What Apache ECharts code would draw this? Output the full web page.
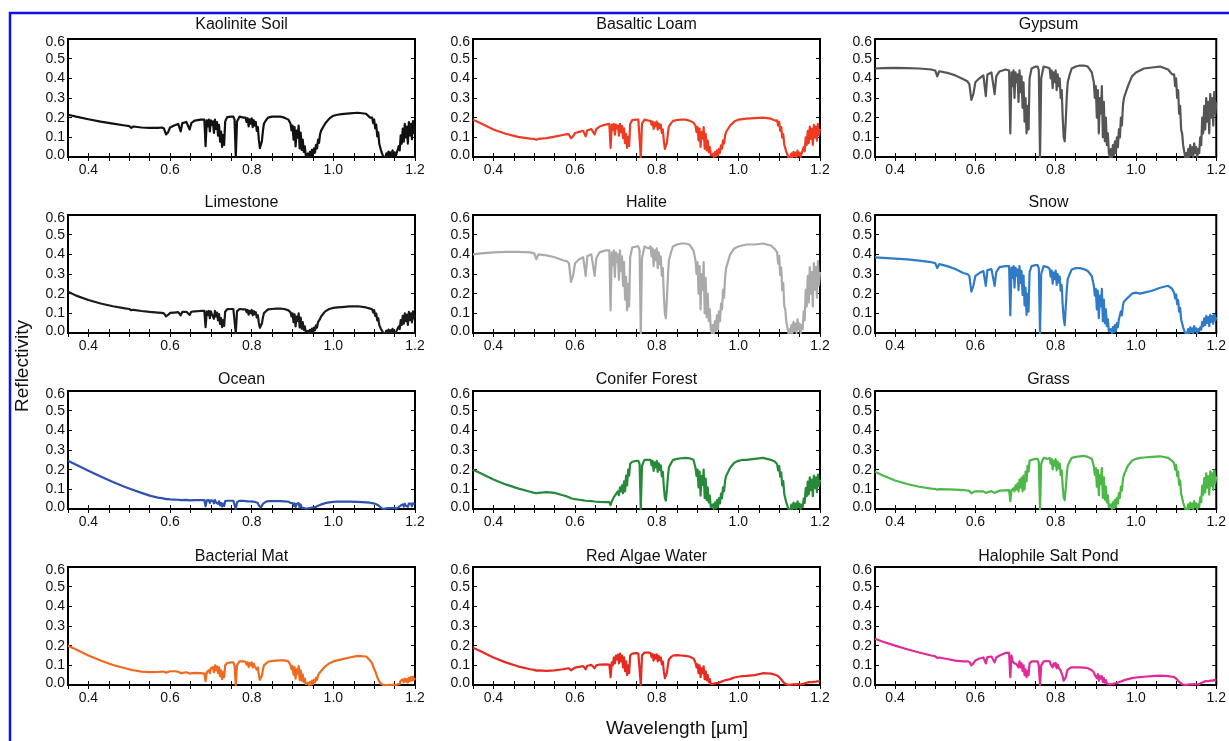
<!DOCTYPE html>
<html>
<head>
<meta charset="utf-8">
<title>Reflectivity spectra</title>
<script src="https://cdn.jsdelivr.net/npm/echarts@6/dist/echarts.min.js"></script>
<style>
  html, body { margin: 0; padding: 0; background: #fff; }
  #chart { width: 1229px; height: 741px; }
</style>
</head>
<body>
<div id="chart"></div>
<script>
// wavelength grid (um), shared by every panel; finer inside the absorption bands
var wavelength = [
  0.35, 0.37, 0.40, 0.43, 0.46, 0.49, 0.50, 0.505, 0.51, 0.53, 0.55, 0.57,
  0.58, 0.585, 0.59, 0.595, 0.60, 0.61, 0.62, 0.626, 0.63, 0.64, 0.648, 0.652, 0.66, 0.675,
  0.684, 0.687, 0.690, 0.6925, 0.695, 0.6975, 0.700, 0.7025, 0.705, 0.7075, 0.710, 0.7125, 0.715, 0.7175, 0.720, 0.7225, 0.725, 0.7275, 0.730, 0.7325, 0.735, 0.740, 0.750,
  0.755, 0.758, 0.761, 0.764, 0.770, 0.780,
  0.785, 0.7875, 0.790, 0.7925, 0.795, 0.7975, 0.800, 0.8025, 0.805, 0.8075, 0.810, 0.8125, 0.815, 0.8175, 0.820, 0.8225, 0.825, 0.8275, 0.830, 0.835, 0.840, 0.850,
  0.860, 0.870, 0.880, 0.890,
  0.895, 0.8975, 0.900, 0.9025, 0.905, 0.9075, 0.910, 0.9125, 0.915, 0.9175, 0.920, 0.9225, 0.925, 0.9275, 0.930, 0.9325, 0.935, 0.9375, 0.940, 0.9425, 0.945, 0.9475, 0.950, 0.9525, 0.955, 0.9575, 0.960, 0.9625, 0.965, 0.9675, 0.970,
  0.980, 0.990, 1.000, 1.010, 1.020, 1.040, 1.060, 1.080, 1.090,
  1.095, 1.0975, 1.100, 1.1025, 1.105, 1.1075, 1.110, 1.1125, 1.115, 1.1175, 1.120, 1.1225, 1.125, 1.1275, 1.130, 1.1325, 1.135, 1.1375, 1.140, 1.1425, 1.145, 1.1475, 1.150, 1.1525, 1.155, 1.1575,
  1.160, 1.1625, 1.165, 1.1675, 1.170, 1.1725, 1.175, 1.1775, 1.180, 1.1825, 1.185, 1.1875, 1.190, 1.1925, 1.195, 1.1975, 1.200
];

var kaoliniteSoil = [
  0.215, 0.205, 0.192, 0.180, 0.170, 0.160, 0.157, 0.148, 0.155, 0.150, 0.148, 0.148,
  0.150, 0.145, 0.115, 0.125, 0.150, 0.160, 0.168, 0.130, 0.172, 0.178, 0.140, 0.172, 0.185, 0.190,
  0.190, 0.055, 0.186, 0.156, 0.190, 0.130, 0.186, 0.163, 0.181, 0.122, 0.190, 0.143, 0.177, 0.108, 0.163, 0.078, 0.129, 0.051, 0.112, 0.061, 0.180, 0.203, 0.205,
  0.205, 0.190, 0.000, 0.180, 0.205, 0.200,
  0.200, 0.178, 0.197, 0.156, 0.191, 0.170, 0.197, 0.152, 0.187, 0.160, 0.178, 0.133, 0.152, 0.088, 0.045, 0.035, 0.080, 0.133, 0.170, 0.187, 0.200, 0.205,
  0.205, 0.205, 0.200, 0.190,
  0.170, 0.135, 0.160, 0.088, 0.152, 0.054, 0.134, 0.098, 0.160, 0.044, 0.124, 0.036, 0.088, 0.026, 0.054, 0.008, 0.000, 0.018, 0.000, 0.026, 0.004, 0.036, 0.008, 0.044, 0.022, 0.062, 0.044, 0.088, 0.072, 0.116, 0.134,
  0.170, 0.195, 0.210, 0.215, 0.218, 0.222, 0.225, 0.220, 0.200,
  0.200, 0.172, 0.190, 0.145, 0.165, 0.105, 0.125, 0.067, 0.058, 0.028, 0.015, 0.000, 0.009, 0.000, 0.019, 0.000, 0.028, 0.004, 0.024, 0.000, 0.034, 0.009, 0.024, 0.000, 0.019, 0.009,
  0.055, 0.034, 0.110, 0.068, 0.145, 0.078, 0.168, 0.100, 0.155, 0.068, 0.178, 0.110, 0.168, 0.090, 0.182, 0.122, 0.155
];

var basalticLoam = [
  0.190, 0.170, 0.140, 0.118, 0.102, 0.093, 0.092, 0.088, 0.092, 0.096, 0.104, 0.112,
  0.116, 0.115, 0.095, 0.105, 0.122, 0.128, 0.133, 0.105, 0.136, 0.142, 0.115, 0.142, 0.155, 0.165,
  0.168, 0.046, 0.165, 0.138, 0.168, 0.114, 0.165, 0.145, 0.160, 0.108, 0.168, 0.126, 0.157, 0.096, 0.146, 0.070, 0.116, 0.046, 0.102, 0.056, 0.168, 0.188, 0.190,
  0.190, 0.180, 0.000, 0.170, 0.190, 0.185,
  0.184, 0.164, 0.180, 0.143, 0.175, 0.156, 0.180, 0.139, 0.171, 0.147, 0.164, 0.122, 0.139, 0.081, 0.041, 0.032, 0.073, 0.122, 0.156, 0.171, 0.184, 0.188,
  0.190, 0.190, 0.185, 0.175,
  0.160, 0.127, 0.152, 0.084, 0.144, 0.051, 0.127, 0.093, 0.152, 0.042, 0.118, 0.034, 0.084, 0.025, 0.051, 0.008, 0.000, 0.017, 0.000, 0.025, 0.004, 0.034, 0.008, 0.042, 0.021, 0.059, 0.042, 0.084, 0.068, 0.110, 0.127,
  0.160, 0.180, 0.190, 0.193, 0.195, 0.198, 0.200, 0.195, 0.185,
  0.186, 0.160, 0.178, 0.134, 0.152, 0.098, 0.116, 0.062, 0.054, 0.026, 0.014, 0.000, 0.008, 0.000, 0.018, 0.000, 0.026, 0.004, 0.022, 0.000, 0.032, 0.008, 0.022, 0.000, 0.018, 0.008,
  0.050, 0.030, 0.100, 0.062, 0.133, 0.071, 0.154, 0.092, 0.143, 0.062, 0.163, 0.100, 0.154, 0.083, 0.168, 0.113, 0.143
];

var gypsum = [
  0.450, 0.452, 0.453, 0.452, 0.450, 0.445, 0.440, 0.410, 0.436, 0.428, 0.415, 0.395,
  0.385, 0.370, 0.290, 0.320, 0.380, 0.400, 0.415, 0.310, 0.420, 0.430, 0.320, 0.410, 0.435, 0.445,
  0.440, 0.120, 0.430, 0.360, 0.440, 0.300, 0.430, 0.380, 0.420, 0.280, 0.440, 0.330, 0.410, 0.250, 0.380, 0.180, 0.300, 0.120, 0.260, 0.140, 0.400, 0.450, 0.460,
  0.460, 0.440, 0.000, 0.400, 0.460, 0.455,
  0.450, 0.400, 0.440, 0.350, 0.430, 0.380, 0.440, 0.340, 0.420, 0.360, 0.400, 0.300, 0.340, 0.200, 0.100, 0.080, 0.180, 0.300, 0.380, 0.420, 0.450, 0.460,
  0.465, 0.465, 0.460, 0.430,
  0.380, 0.300, 0.360, 0.200, 0.340, 0.120, 0.300, 0.220, 0.360, 0.100, 0.280, 0.080, 0.200, 0.060, 0.120, 0.020, 0.000, 0.040, 0.000, 0.060, 0.010, 0.080, 0.020, 0.100, 0.050, 0.140, 0.100, 0.200, 0.160, 0.260, 0.300,
  0.360, 0.410, 0.430, 0.440, 0.450, 0.455, 0.460, 0.445, 0.420,
  0.420, 0.360, 0.400, 0.300, 0.340, 0.220, 0.260, 0.140, 0.120, 0.060, 0.030, 0.000, 0.020, 0.000, 0.040, 0.000, 0.060, 0.010, 0.050, 0.000, 0.070, 0.020, 0.050, 0.000, 0.040, 0.020,
  0.100, 0.060, 0.200, 0.120, 0.260, 0.140, 0.300, 0.180, 0.280, 0.120, 0.320, 0.200, 0.300, 0.160, 0.330, 0.220, 0.280
];

var limestone = [
  0.210, 0.190, 0.168, 0.150, 0.136, 0.125, 0.122, 0.116, 0.118, 0.112, 0.107, 0.104,
  0.102, 0.100, 0.085, 0.092, 0.102, 0.104, 0.106, 0.090, 0.107, 0.108, 0.092, 0.108, 0.110, 0.112,
  0.112, 0.030, 0.110, 0.092, 0.112, 0.076, 0.110, 0.096, 0.106, 0.072, 0.112, 0.084, 0.104, 0.064, 0.096, 0.046, 0.076, 0.030, 0.066, 0.036, 0.108, 0.121, 0.122,
  0.122, 0.115, 0.000, 0.110, 0.122, 0.120,
  0.120, 0.106, 0.117, 0.093, 0.113, 0.101, 0.117, 0.090, 0.111, 0.095, 0.106, 0.079, 0.090, 0.052, 0.027, 0.021, 0.048, 0.079, 0.101, 0.111, 0.120, 0.122,
  0.124, 0.124, 0.122, 0.115,
  0.105, 0.084, 0.100, 0.055, 0.095, 0.034, 0.084, 0.061, 0.100, 0.028, 0.078, 0.022, 0.055, 0.016, 0.034, 0.005, 0.000, 0.011, 0.000, 0.016, 0.003, 0.022, 0.005, 0.028, 0.014, 0.039, 0.028, 0.055, 0.045, 0.072, 0.084,
  0.110, 0.122, 0.128, 0.130, 0.132, 0.135, 0.136, 0.130, 0.124,
  0.121, 0.104, 0.116, 0.087, 0.099, 0.064, 0.075, 0.040, 0.035, 0.017, 0.009, 0.000, 0.005, 0.000, 0.012, 0.000, 0.017, 0.003, 0.014, 0.000, 0.021, 0.005, 0.014, 0.000, 0.012, 0.005,
  0.033, 0.020, 0.066, 0.041, 0.087, 0.047, 0.100, 0.060, 0.093, 0.041, 0.107, 0.066, 0.100, 0.054, 0.110, 0.074, 0.093
];

var halite = [
  0.400, 0.405, 0.410, 0.413, 0.413, 0.410, 0.405, 0.375, 0.400, 0.395, 0.385, 0.370,
  0.365, 0.355, 0.260, 0.290, 0.355, 0.375, 0.385, 0.290, 0.390, 0.400, 0.290, 0.380, 0.410, 0.420,
  0.420, 0.115, 0.410, 0.345, 0.420, 0.285, 0.410, 0.360, 0.400, 0.270, 0.420, 0.315, 0.390, 0.240, 0.360, 0.170, 0.285, 0.115, 0.250, 0.135, 0.385, 0.435, 0.440,
  0.440, 0.420, 0.000, 0.380, 0.440, 0.430,
  0.440, 0.390, 0.430, 0.340, 0.420, 0.370, 0.430, 0.330, 0.410, 0.350, 0.390, 0.290, 0.330, 0.190, 0.100, 0.075, 0.175, 0.290, 0.370, 0.410, 0.440, 0.450,
  0.455, 0.455, 0.450, 0.420,
  0.370, 0.300, 0.360, 0.200, 0.340, 0.120, 0.300, 0.220, 0.360, 0.100, 0.280, 0.080, 0.200, 0.060, 0.120, 0.020, 0.000, 0.040, 0.000, 0.060, 0.010, 0.090, 0.020, 0.110, 0.060, 0.150, 0.120, 0.220, 0.180, 0.280, 0.330,
  0.400, 0.430, 0.440, 0.445, 0.450, 0.450, 0.455, 0.445, 0.425,
  0.410, 0.352, 0.392, 0.295, 0.334, 0.216, 0.255, 0.136, 0.119, 0.057, 0.031, 0.000, 0.018, 0.000, 0.040, 0.000, 0.057, 0.009, 0.048, 0.000, 0.070, 0.018, 0.048, 0.000, 0.040, 0.018,
  0.110, 0.065, 0.220, 0.135, 0.290, 0.155, 0.335, 0.200, 0.310, 0.135, 0.355, 0.220, 0.335, 0.180, 0.365, 0.245, 0.310
];

var snow = [
  0.385, 0.382, 0.378, 0.374, 0.368, 0.360, 0.355, 0.330, 0.350, 0.340, 0.325, 0.305,
  0.300, 0.290, 0.210, 0.240, 0.290, 0.305, 0.315, 0.240, 0.320, 0.325, 0.240, 0.310, 0.335, 0.340,
  0.340, 0.090, 0.333, 0.280, 0.340, 0.230, 0.333, 0.292, 0.323, 0.218, 0.340, 0.255, 0.316, 0.194, 0.292, 0.140, 0.231, 0.092, 0.200, 0.109, 0.310, 0.340, 0.345,
  0.345, 0.330, 0.000, 0.300, 0.340, 0.335,
  0.325, 0.287, 0.317, 0.251, 0.307, 0.274, 0.317, 0.244, 0.300, 0.257, 0.287, 0.215, 0.244, 0.142, 0.073, 0.040, 0.129, 0.215, 0.274, 0.300, 0.323, 0.330,
  0.330, 0.325, 0.315, 0.290,
  0.240, 0.190, 0.225, 0.120, 0.215, 0.075, 0.190, 0.135, 0.225, 0.060, 0.170, 0.050, 0.120, 0.035, 0.070, 0.010, 0.000, 0.020, 0.000, 0.030, 0.005, 0.040, 0.010, 0.050, 0.030, 0.070, 0.060, 0.110, 0.090, 0.140, 0.160,
  0.180, 0.200, 0.205, 0.200, 0.205, 0.215, 0.230, 0.240, 0.225,
  0.205, 0.176, 0.196, 0.147, 0.167, 0.108, 0.128, 0.068, 0.059, 0.029, 0.015, 0.000, 0.009, 0.000, 0.020, 0.000, 0.029, 0.004, 0.024, 0.000, 0.035, 0.009, 0.024, 0.000, 0.020, 0.009,
  0.029, 0.017, 0.057, 0.035, 0.075, 0.040, 0.087, 0.052, 0.081, 0.035, 0.092, 0.057, 0.087, 0.047, 0.095, 0.064, 0.081
];

var ocean = [
  0.245, 0.225, 0.195, 0.165, 0.137, 0.112, 0.104, 0.100, 0.097, 0.082, 0.068, 0.058,
  0.055, 0.053, 0.050, 0.050, 0.049, 0.048, 0.047, 0.045, 0.047, 0.046, 0.044, 0.046, 0.045, 0.045,
  0.045, 0.014, 0.044, 0.037, 0.045, 0.031, 0.044, 0.039, 0.043, 0.029, 0.045, 0.034, 0.042, 0.026, 0.039, 0.019, 0.031, 0.013, 0.027, 0.015, 0.040, 0.042, 0.042,
  0.042, 0.038, 0.000, 0.035, 0.042, 0.041,
  0.040, 0.035, 0.039, 0.031, 0.038, 0.034, 0.039, 0.030, 0.037, 0.032, 0.035, 0.026, 0.030, 0.018, 0.010, 0.008, 0.016, 0.026, 0.034, 0.037, 0.040, 0.040,
  0.040, 0.040, 0.039, 0.037,
  0.031, 0.025, 0.030, 0.016, 0.028, 0.010, 0.025, 0.018, 0.030, 0.008, 0.023, 0.007, 0.016, 0.005, 0.010, 0.002, 0.000, 0.003, 0.000, 0.005, 0.001, 0.007, 0.002, 0.008, 0.004, 0.011, 0.008, 0.016, 0.013, 0.021, 0.025,
  0.030, 0.034, 0.036, 0.037, 0.037, 0.037, 0.036, 0.034, 0.032,
  0.030, 0.026, 0.028, 0.021, 0.024, 0.016, 0.019, 0.010, 0.009, 0.004, 0.002, 0.000, 0.001, 0.000, 0.003, 0.000, 0.004, 0.001, 0.004, 0.000, 0.005, 0.001, 0.004, 0.000, 0.003, 0.001,
  0.009, 0.005, 0.018, 0.011, 0.023, 0.012, 0.027, 0.016, 0.025, 0.011, 0.028, 0.018, 0.027, 0.014, 0.029, 0.020, 0.025
];

var coniferForest = [
  0.200, 0.180, 0.150, 0.125, 0.105, 0.088, 0.082, 0.080, 0.082, 0.086, 0.082, 0.070,
  0.064, 0.060, 0.055, 0.052, 0.050, 0.047, 0.044, 0.042, 0.042, 0.040, 0.038, 0.037, 0.036, 0.035,
  0.035, 0.020, 0.040, 0.050, 0.060, 0.055, 0.075, 0.070, 0.090, 0.070, 0.110, 0.090, 0.120, 0.080, 0.140, 0.090, 0.170, 0.120, 0.200, 0.170, 0.230, 0.240, 0.245,
  0.245, 0.230, 0.000, 0.220, 0.250, 0.250,
  0.250, 0.222, 0.245, 0.194, 0.237, 0.212, 0.245, 0.189, 0.232, 0.199, 0.222, 0.166, 0.189, 0.110, 0.056, 0.043, 0.099, 0.166, 0.212, 0.232, 0.250, 0.255,
  0.258, 0.260, 0.258, 0.250,
  0.210, 0.168, 0.200, 0.110, 0.190, 0.068, 0.168, 0.123, 0.200, 0.055, 0.155, 0.045, 0.110, 0.033, 0.068, 0.010, 0.000, 0.023, 0.000, 0.033, 0.005, 0.045, 0.010, 0.055, 0.028, 0.078, 0.055, 0.110, 0.090, 0.145, 0.168,
  0.210, 0.235, 0.245, 0.250, 0.250, 0.255, 0.260, 0.250, 0.240,
  0.228, 0.196, 0.218, 0.164, 0.186, 0.120, 0.142, 0.076, 0.066, 0.032, 0.017, 0.000, 0.010, 0.000, 0.022, 0.000, 0.032, 0.005, 0.027, 0.000, 0.039, 0.010, 0.027, 0.000, 0.022, 0.010,
  0.053, 0.031, 0.106, 0.065, 0.139, 0.074, 0.161, 0.096, 0.149, 0.065, 0.170, 0.106, 0.161, 0.086, 0.175, 0.118, 0.149
];

var grass = [
  0.190, 0.170, 0.145, 0.127, 0.113, 0.104, 0.102, 0.098, 0.101, 0.100, 0.099, 0.096,
  0.094, 0.092, 0.080, 0.086, 0.090, 0.090, 0.090, 0.082, 0.090, 0.091, 0.082, 0.091, 0.093, 0.095,
  0.096, 0.040, 0.095, 0.085, 0.105, 0.090, 0.120, 0.100, 0.130, 0.090, 0.150, 0.110, 0.160, 0.090, 0.170, 0.100, 0.190, 0.140, 0.220, 0.190, 0.245, 0.250, 0.255,
  0.255, 0.240, 0.000, 0.230, 0.260, 0.255,
  0.260, 0.231, 0.254, 0.201, 0.246, 0.220, 0.254, 0.196, 0.241, 0.207, 0.231, 0.172, 0.196, 0.114, 0.058, 0.045, 0.103, 0.172, 0.220, 0.241, 0.260, 0.265,
  0.268, 0.270, 0.265, 0.255,
  0.218, 0.174, 0.208, 0.114, 0.198, 0.070, 0.174, 0.127, 0.208, 0.057, 0.161, 0.047, 0.114, 0.034, 0.070, 0.010, 0.000, 0.023, 0.000, 0.034, 0.005, 0.047, 0.010, 0.057, 0.029, 0.081, 0.057, 0.114, 0.094, 0.151, 0.174,
  0.220, 0.245, 0.255, 0.260, 0.262, 0.265, 0.268, 0.260, 0.245,
  0.233, 0.200, 0.223, 0.168, 0.190, 0.123, 0.145, 0.078, 0.068, 0.033, 0.018, 0.000, 0.010, 0.000, 0.023, 0.000, 0.033, 0.005, 0.028, 0.000, 0.040, 0.010, 0.028, 0.000, 0.023, 0.010,
  0.059, 0.035, 0.119, 0.073, 0.157, 0.084, 0.181, 0.108, 0.167, 0.073, 0.192, 0.119, 0.181, 0.097, 0.197, 0.132, 0.167
];

var bacterialMat = [
  0.200, 0.180, 0.150, 0.125, 0.102, 0.085, 0.080, 0.076, 0.075, 0.068, 0.065, 0.066,
  0.068, 0.068, 0.062, 0.066, 0.070, 0.070, 0.068, 0.060, 0.066, 0.065, 0.058, 0.063, 0.062, 0.060,
  0.058, 0.020, 0.065, 0.055, 0.075, 0.060, 0.085, 0.075, 0.090, 0.065, 0.100, 0.075, 0.095, 0.060, 0.090, 0.045, 0.075, 0.030, 0.065, 0.040, 0.100, 0.112, 0.115,
  0.115, 0.100, 0.000, 0.100, 0.120, 0.120,
  0.118, 0.104, 0.115, 0.091, 0.112, 0.100, 0.115, 0.089, 0.109, 0.094, 0.104, 0.078, 0.089, 0.052, 0.026, 0.020, 0.047, 0.078, 0.100, 0.109, 0.118, 0.122,
  0.124, 0.125, 0.125, 0.120,
  0.100, 0.080, 0.096, 0.053, 0.091, 0.032, 0.080, 0.059, 0.096, 0.026, 0.074, 0.022, 0.053, 0.016, 0.032, 0.005, 0.000, 0.011, 0.000, 0.016, 0.002, 0.022, 0.005, 0.026, 0.013, 0.037, 0.026, 0.050, 0.043, 0.065, 0.072,
  0.095, 0.110, 0.120, 0.125, 0.130, 0.140, 0.148, 0.145, 0.125,
  0.110, 0.095, 0.088, 0.070, 0.060, 0.040, 0.035, 0.018, 0.012, 0.005, 0.002, 0.000, 0.002, 0.000, 0.004, 0.000, 0.006, 0.001, 0.005, 0.000, 0.008, 0.002, 0.006, 0.000, 0.005, 0.003,
  0.012, 0.006, 0.022, 0.012, 0.028, 0.014, 0.032, 0.018, 0.030, 0.012, 0.036, 0.020, 0.040, 0.022, 0.042, 0.028, 0.035
];

var redAlgaeWater = [
  0.190, 0.170, 0.140, 0.115, 0.095, 0.080, 0.077, 0.073, 0.074, 0.072, 0.074, 0.080,
  0.084, 0.085, 0.075, 0.082, 0.088, 0.092, 0.096, 0.080, 0.098, 0.102, 0.085, 0.100, 0.104, 0.105,
  0.104, 0.040, 0.115, 0.100, 0.140, 0.110, 0.150, 0.130, 0.155, 0.110, 0.160, 0.120, 0.150, 0.090, 0.140, 0.070, 0.120, 0.050, 0.100, 0.060, 0.150, 0.160, 0.162,
  0.160, 0.150, 0.000, 0.150, 0.165, 0.165,
  0.162, 0.142, 0.157, 0.124, 0.152, 0.135, 0.156, 0.120, 0.148, 0.126, 0.140, 0.105, 0.119, 0.069, 0.035, 0.027, 0.062, 0.103, 0.130, 0.142, 0.150, 0.152,
  0.150, 0.148, 0.145, 0.135,
  0.115, 0.090, 0.105, 0.060, 0.100, 0.040, 0.085, 0.060, 0.095, 0.030, 0.070, 0.025, 0.050, 0.015, 0.030, 0.005, 0.000, 0.006, 0.000, 0.008, 0.002, 0.010, 0.004, 0.012, 0.010, 0.016, 0.014, 0.020, 0.018, 0.024, 0.026,
  0.030, 0.038, 0.042, 0.045, 0.046, 0.050, 0.060, 0.058, 0.052,
  0.048, 0.042, 0.040, 0.032, 0.028, 0.018, 0.015, 0.008, 0.006, 0.002, 0.001, 0.000, 0.001, 0.000, 0.002, 0.000, 0.003, 0.000, 0.003, 0.000, 0.004, 0.001, 0.003, 0.000, 0.003, 0.002,
  0.006, 0.004, 0.010, 0.007, 0.013, 0.008, 0.015, 0.010, 0.014, 0.008, 0.016, 0.011, 0.017, 0.012, 0.019, 0.014, 0.018
];

var halophileSaltPond = [
  0.235, 0.220, 0.200, 0.182, 0.165, 0.150, 0.146, 0.138, 0.140, 0.132, 0.124, 0.120,
  0.120, 0.118, 0.100, 0.110, 0.125, 0.135, 0.140, 0.110, 0.142, 0.145, 0.115, 0.140, 0.150, 0.163,
  0.163, 0.040, 0.150, 0.120, 0.130, 0.110, 0.120, 0.105, 0.115, 0.090, 0.120, 0.090, 0.110, 0.070, 0.100, 0.050, 0.080, 0.040, 0.070, 0.050, 0.110, 0.120, 0.120,
  0.120, 0.100, 0.000, 0.100, 0.120, 0.122,
  0.120, 0.105, 0.115, 0.090, 0.110, 0.098, 0.112, 0.085, 0.104, 0.088, 0.098, 0.072, 0.080, 0.045, 0.022, 0.017, 0.038, 0.062, 0.078, 0.085, 0.090, 0.090,
  0.090, 0.088, 0.085, 0.075,
  0.065, 0.050, 0.060, 0.035, 0.055, 0.022, 0.045, 0.032, 0.045, 0.015, 0.035, 0.012, 0.025, 0.008, 0.015, 0.003, 0.000, 0.004, 0.000, 0.006, 0.001, 0.008, 0.003, 0.010, 0.008, 0.014, 0.012, 0.018, 0.016, 0.022, 0.025,
  0.030, 0.035, 0.038, 0.040, 0.042, 0.045, 0.048, 0.045, 0.042,
  0.040, 0.035, 0.033, 0.026, 0.022, 0.014, 0.012, 0.006, 0.004, 0.002, 0.001, 0.000, 0.001, 0.000, 0.002, 0.000, 0.003, 0.000, 0.003, 0.000, 0.004, 0.001, 0.003, 0.000, 0.003, 0.002,
  0.008, 0.005, 0.013, 0.009, 0.017, 0.010, 0.020, 0.013, 0.019, 0.010, 0.022, 0.014, 0.022, 0.015, 0.025, 0.018, 0.022
];

var panelTitles = [
  'Kaolinite Soil', 'Basaltic Loam', 'Gypsum',
  'Limestone', 'Halite', 'Snow',
  'Ocean', 'Conifer Forest', 'Grass',
  'Bacterial Mat', 'Red Algae Water', 'Halophile Salt Pond'
];
var panelValues = [
  kaoliniteSoil, basalticLoam, gypsum,
  limestone, halite, snow,
  ocean, coniferForest, grass,
  bacterialMat, redAlgaeWater, halophileSaltPond
];
var panelColors = [
  '#111111', '#ee3b22', '#555555',
  '#1a1a1a', '#aaaaaa', '#2f7bc8',
  '#2e50b0', '#268a3a', '#4cb847',
  '#ef6a1f', '#e62a20', '#df2a98'
];

// layout of the 4 x 3 panels (px)
var colLeft = [68, 473, 875];
var rowTop = [39, 215, 391, 567];
var titleY = [25, 203, 380, 557];
var boxW = 347, boxH = 118;
var FONT = '"Liberation Sans", Arial, Helvetica, sans-serif';

var chart = echarts.init(document.getElementById('chart'), null, {renderer: 'canvas'});

var grids = [], xAxes = [], yAxes = [], series = [], graphics = [];

panelTitles.forEach(function (name, p) {
  var r = Math.floor(p / 3), c = p % 3;
  grids.push({left: colLeft[c], top: rowTop[r], width: boxW, height: boxH,
    show: true, borderColor: '#000', borderWidth: 2, backgroundColor: '#fff'});

  var tickStyle = {show: true, inside: true, length: 4, lineStyle: {color: '#000', width: 1}};
  // bottom x axis with labels
  xAxes.push({gridIndex: p, type: 'value', position: 'bottom', min: 0.35, max: 1.2, interval: 0.05,
    axisLine: {show: false}, splitLine: {show: false},
    axisTick: tickStyle,
    axisLabel: {show: true, margin: 6, fontSize: 14, color: '#111', fontFamily: FONT,
      formatter: function (v) {
        var k = v * 5;
        return Math.abs(k - Math.round(k)) < 1e-6 ? v.toFixed(1) : '';
      }}
  });
  // top x axis, ticks only
  xAxes.push({gridIndex: p, type: 'value', position: 'top', min: 0.35, max: 1.2, interval: 0.05,
    axisLine: {show: false}, splitLine: {show: false},
    axisTick: tickStyle, axisLabel: {show: false}
  });
  // left y axis; the end labels are nudged into the box like the original
  yAxes.push({gridIndex: p, type: 'value', position: 'left', min: 0, max: 0.6, interval: 0.1,
    axisLine: {show: false}, splitLine: {show: false},
    axisTick: tickStyle,
    axisLabel: {show: true, margin: 3, fontSize: 14, color: '#111', fontFamily: FONT,
      showMinLabel: true, showMaxLabel: true, hideOverlap: false,
      formatter: function (v) {
        if (v > 0.59) return '{top|' + v.toFixed(1) + '}';
        if (v < 0.01) return '{bot|' + v.toFixed(1) + '}';
        return v.toFixed(1);
      },
      rich: {
        top: {fontSize: 14, color: '#111', fontFamily: FONT, padding: [6, 0, 0, 0]},
        bot: {fontSize: 14, color: '#111', fontFamily: FONT, padding: [0, 0, 3, 0]}
      }}
  });
  yAxes.push({gridIndex: p, type: 'value', position: 'right', min: 0, max: 0.6, interval: 0.1,
    axisLine: {show: false}, splitLine: {show: false},
    axisTick: tickStyle, axisLabel: {show: false}
  });

  var vals = panelValues[p];
  series.push({
    name: name, type: 'line', xAxisIndex: 2 * p, yAxisIndex: 2 * p,
    data: wavelength.map(function (w, i) { return [w, vals[i]]; }),
    showSymbol: false, symbol: 'none', clip: true,
    lineStyle: {color: panelColors[p], width: 2.2, join: 'round'},
    itemStyle: {color: panelColors[p]}
  });

  graphics.push({type: 'text', x: colLeft[c] + boxW / 2, y: titleY[r], z: 10,
    style: {text: name, fill: '#111', font: '16px ' + FONT, textAlign: 'center', textVerticalAlign: 'middle', verticalAlign: 'middle'}});
});

// figure-level axis titles and the blue outer frame
graphics.push({type: 'text', x: 23, y: 366, rotation: Math.PI / 2, z: 10,
  style: {text: 'Reflectivity', fill: '#111', font: '19px ' + FONT, textAlign: 'center', textVerticalAlign: 'middle', verticalAlign: 'middle'}});
graphics.push({type: 'text', x: 677, y: 729, z: 10,
  style: {text: 'Wavelength [µm]', fill: '#111', font: '19px ' + FONT, textAlign: 'center', textVerticalAlign: 'middle', verticalAlign: 'middle'}});
graphics.push({type: 'rect', shape: {x: 10, y: 13, width: 1400, height: 900}, z: 20, silent: true,
  style: {fill: 'none', stroke: '#1010ee', lineWidth: 2.5}});

chart.setOption({
  animation: false,
  backgroundColor: '#fff',
  grid: grids,
  xAxis: xAxes,
  yAxis: yAxes,
  series: series,
  graphic: graphics
});
</script>
</body>
</html>
